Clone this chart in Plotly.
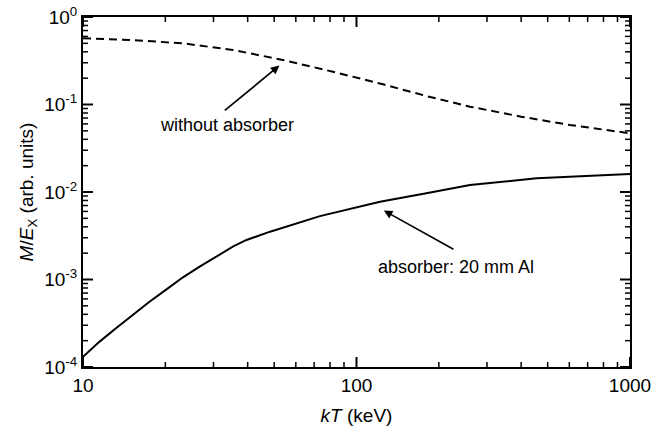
import numpy as np
import plotly.graph_objects as go

# Response per unit exposure versus plasma temperature (keV)
kt_free = [10, 15.2, 23.2, 35.3, 53.8, 82, 125, 180, 260, 400, 603, 1000]
m_free = [0.571, 0.546, 0.50, 0.42, 0.323, 0.237, 0.170, 0.125, 0.0944, 0.0726,
          0.0583, 0.0469]

kt_al = [10, 11.5, 13.2, 15.2, 17.5, 20.2, 23.2, 26.7, 30.7, 35.3, 39.6, 48.3,
         73.5, 121.9, 180, 260, 456, 680, 1000]
m_al = [1.31e-4, 1.95e-4, 2.77e-4, 3.93e-4, 5.57e-4, 7.72e-4, 1.06e-3, 1.40e-3,
        1.82e-3, 2.37e-3, 2.83e-3, 3.52e-3, 5.3e-3, 7.75e-3, 9.7e-3, 0.0120,
        0.01435, 0.0152, 0.0161]

x_ticks = [10, 100, 1000]
x_ticktext = ["10", "100", "1000"]
y_ticks = [1e-4, 1e-3, 1e-2, 1e-1, 1]
y_ticktext = ["10<sup>-4</sup>", "10<sup>-3</sup>", "10<sup>-2</sup>",
              "10<sup>-1</sup>", "10<sup>0</sup>"]

minor_x = [m * 10 ** d for d in range(1, 3) for m in range(2, 10)]
minor_y = [m * 10.0 ** d for d in range(-4, 0) for m in range(2, 10)]

font = "Liberation Sans, Arial, Helvetica, sans-serif"
X_RANGE, Y_RANGE = [1, 3], [-4, 0]
W, H = 667, 432
MARGIN = dict(l=83, r=37, t=17, b=65)
plot_w = W - MARGIN["l"] - MARGIN["r"]
plot_h = H - MARGIN["t"] - MARGIN["b"]


def tick_segments(xvals, yvals, length_px):
    """Inward tick marks on all four sides, as polyline segments in data space."""
    dx = length_px * (X_RANGE[1] - X_RANGE[0]) / plot_w   # decades per pixel (x)
    dy = length_px * (Y_RANGE[1] - Y_RANGE[0]) / plot_h   # decades per pixel (y)
    xs, ys = [], []
    ylo, yhi = 10.0 ** Y_RANGE[0], 10.0 ** Y_RANGE[1]
    xlo, xhi = 10.0 ** X_RANGE[0], 10.0 ** X_RANGE[1]
    for v in xvals:
        xs += [v, v, None, v, v, None]
        ys += [ylo, 10 ** (Y_RANGE[0] + dy), None, yhi, 10 ** (Y_RANGE[1] - dy), None]
    for v in yvals:
        xs += [xlo, 10 ** (X_RANGE[0] + dx), None, xhi, 10 ** (X_RANGE[1] - dx), None]
        ys += [v, v, None, v, v, None]
    return xs, ys


fig = go.Figure()
fig.add_trace(go.Scatter(x=kt_free, y=m_free, mode="lines",
                         line=dict(color="black", width=2, dash="8px,5px"),
                         name="without absorber", showlegend=False))
fig.add_trace(go.Scatter(x=kt_al, y=m_al, mode="lines",
                         line=dict(color="black", width=2),
                         name="absorber: 20 mm Al", showlegend=False))

# major and minor tick marks
for vals_x, vals_y, length, width in ((x_ticks, y_ticks, 10, 2),
                                      (minor_x, minor_y, 5, 1.5)):
    tx, ty = tick_segments(vals_x, vals_y, length)
    fig.add_trace(go.Scatter(x=tx, y=ty, mode="lines", line=dict(color="black", width=width),
                             hoverinfo="skip", showlegend=False, cliponaxis=False))

axis_base = dict(type="log", showgrid=False, zeroline=False, showline=True,
                 linecolor="black", linewidth=2, mirror=True, ticks="",
                 tickmode="array", automargin=False,
                 tickfont=dict(family=font, size=19, color="black"))

fig.update_xaxes(**axis_base, range=X_RANGE, tickvals=x_ticks, ticktext=x_ticktext,
                 title=dict(text="<i>kT</i> (keV)",
                            font=dict(family=font, size=19, color="black"), standoff=14))
fig.update_yaxes(**axis_base, range=Y_RANGE, tickvals=y_ticks, ticktext=y_ticktext,
                 title=dict(text="<i>M</i>/<i>E</i><sub>X</sub> (arb. units)",
                            font=dict(family=font, size=19, color="black"), standoff=6))

ann_font = dict(family=font, size=18, color="black")
arrow = dict(showarrow=True, arrowhead=2, arrowsize=1.0, arrowwidth=1.7,
             arrowcolor="black", text="", xref="x", yref="y", axref="x", ayref="y")
fig.add_annotation(x=1.718, y=-0.555, ax=1.513, ay=-1.082, **arrow)
fig.add_annotation(x=1.5265, y=-1.23, xref="x", yref="y",
                   text="without absorber", showarrow=False, font=ann_font)
fig.add_annotation(x=2.100, y=-2.212, ax=2.360, ay=-2.663, **arrow)
fig.add_annotation(x=2.3656, y=-2.854, xref="x", yref="y",
                   text="absorber: 20 mm Al", showarrow=False, font=ann_font)

fig.update_layout(
    width=W, height=H, margin=MARGIN,
    paper_bgcolor="white", plot_bgcolor="white",
    font=dict(family=font, color="black"),
)

fig.write_html("out.html")
